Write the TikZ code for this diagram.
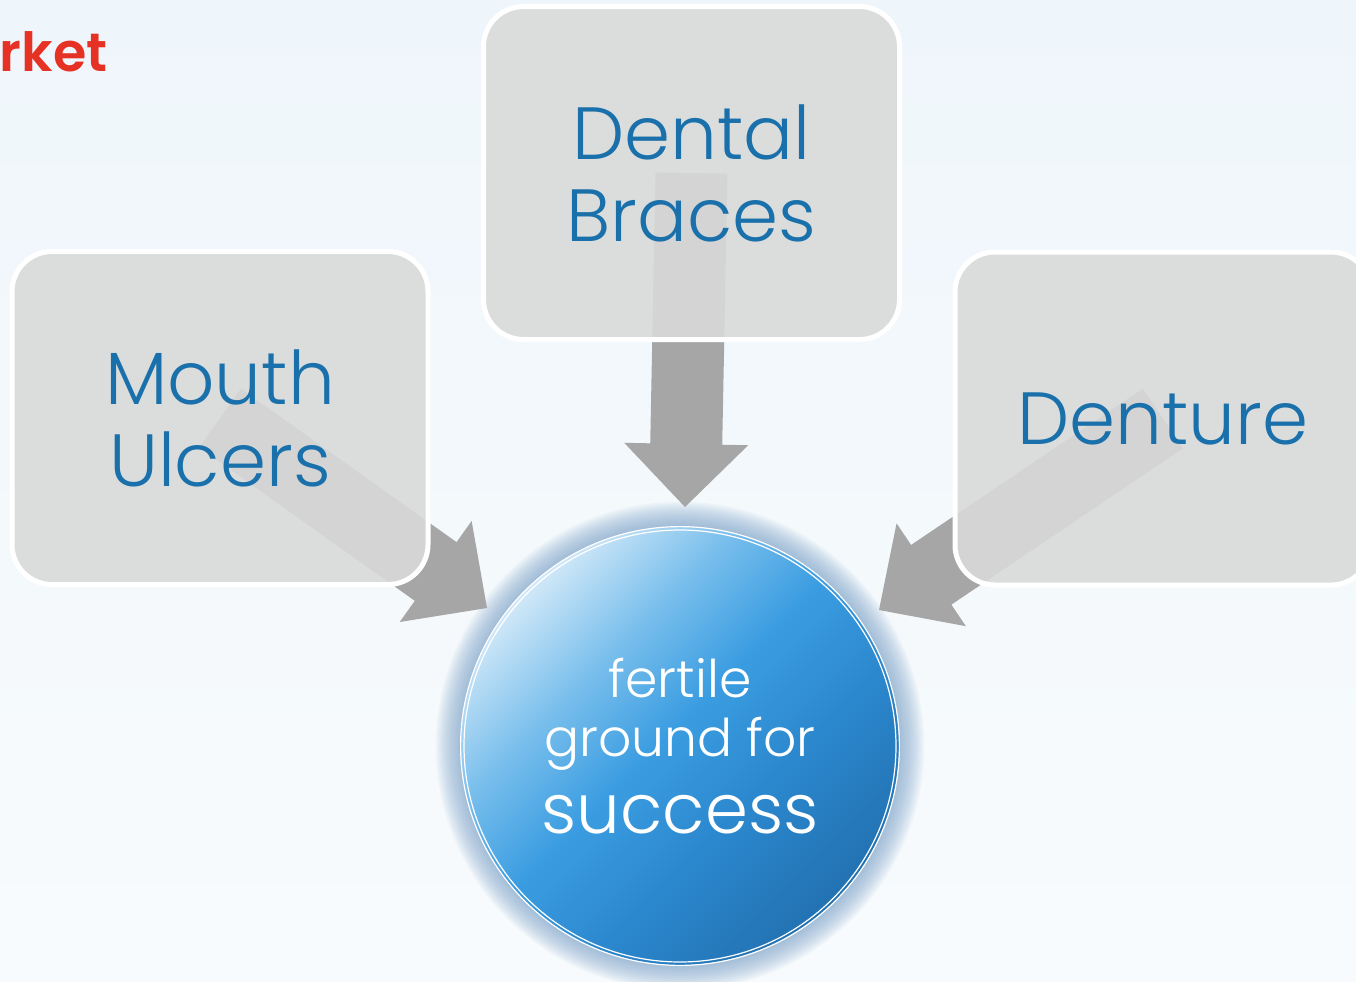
\documentclass[tikz,border=0pt]{standalone}
\usepackage{fontspec}
\setmainfont{Poppins}[UprightFont=* Light, BoldFont=* SemiBold]
\usetikzlibrary{calc}
\definecolor{bgtop}{RGB}{239,246,251}
\definecolor{bgbot}{RGB}{248,251,253}
\definecolor{boxgray}{RGB}{217,218,217}
\definecolor{arrowgray}{RGB}{166,166,166}
\definecolor{textblue}{RGB}{26,112,170}
\definecolor{titlered}{RGB}{229,50,36}
\definecolor{glowc}{RGB}{120,160,200}
\definecolor{cdark}{RGB}{34,114,178}
\definecolor{cdarkb}{RGB}{44,136,206}
\definecolor{cmid}{RGB}{59,157,225}
\definecolor{clmid}{RGB}{120,190,236}
\definecolor{clight}{RGB}{208,232,248}
\pgfdeclareverticalshading{discshade}{100bp}{color(0bp)=(cdark); color(25bp)=(cdark); color(40bp)=(cdarkb); color(52bp)=(cmid); color(63bp)=(clmid); color(75bp)=(clight); color(100bp)=(clight)}
\newcommand\blockarrow[2]{%
  \coordinate (hb) at ($(#2)!31.5pt!(#1)$);
  \fill[arrowgray] ($(#1)!18pt!90:(#2)$) -- ($(hb)!18pt!90:(#2)$) -- ($(hb)!31pt!90:(#2)$) -- (#2)
    -- ($(hb)!31pt!-90:(#2)$) -- ($(hb)!18pt!-90:(#2)$) -- ($(#1)!18pt!-90:(#2)$) -- cycle;}
\begin{document}
\begin{tikzpicture}[x=0.5pt,y=-0.5pt,
  tbox/.style={rectangle, rounded corners=20pt, minimum width=208pt, minimum height=166.5pt,
    inner sep=0pt, fill=boxgray, fill opacity=0.89, text opacity=1, draw=white, line width=2.5pt,
    text=textblue, align=center, font=\fontsize{37}{41}\selectfont},
  disc/.style={circle, minimum size=219pt, inner sep=0pt, shading=discshade, shading angle=45,
    text=white, align=center, font=\fontsize{26}{29.5}\selectfont},
  ring/.style={draw=white, line width=0.6pt}]
\useasboundingbox (0,0) rectangle (1356,981);
\begin{scope}
\clip (0,0) rectangle (1356,981);
\shade[top color=bgtop, bottom color=bgbot] (0,0) rectangle (1356,981);
% named centres
\coordinate (mc) at (220,418);
\coordinate (dc) at (691.5,173);
\coordinate (rc) at (1163,418.5);
\coordinate (cc) at (680,746);
\coordinate (mt) at (487,608);
\coordinate (dt) at (685,507);
\coordinate (rt) at (879,610);
% glow
\foreach \i in {1,...,14} \fill[glowc, opacity=0.065] (cc) circle ({109.5pt+\i*0.9pt});
% arrows
\blockarrow{mc}{mt}
\blockarrow{dc}{dt}
\blockarrow{rc}{rt}
% boxes
\node[tbox] (mouth) at (mc) {Mouth\\Ulcers};
\node[tbox] (dental) at (dc) {Dental\\Braces};
\node[tbox] (denture) at (rc) {Denture};
% disc
\node[disc] (disc) at (cc) {fertile\\ground for\\[9pt]{\fontsize{34.5}{29.5}\selectfont success}};
\draw[ring] (disc.center) circle (109.7pt);
\draw[ring] (disc.center) circle (108pt);
% title fragment
\node[anchor=base east, inner sep=0pt, text=titlered, font=\fontsize{27}{30}\selectfont\bfseries] (title) at (108,71) {rket};
\end{scope}
\end{tikzpicture}
\end{document}
